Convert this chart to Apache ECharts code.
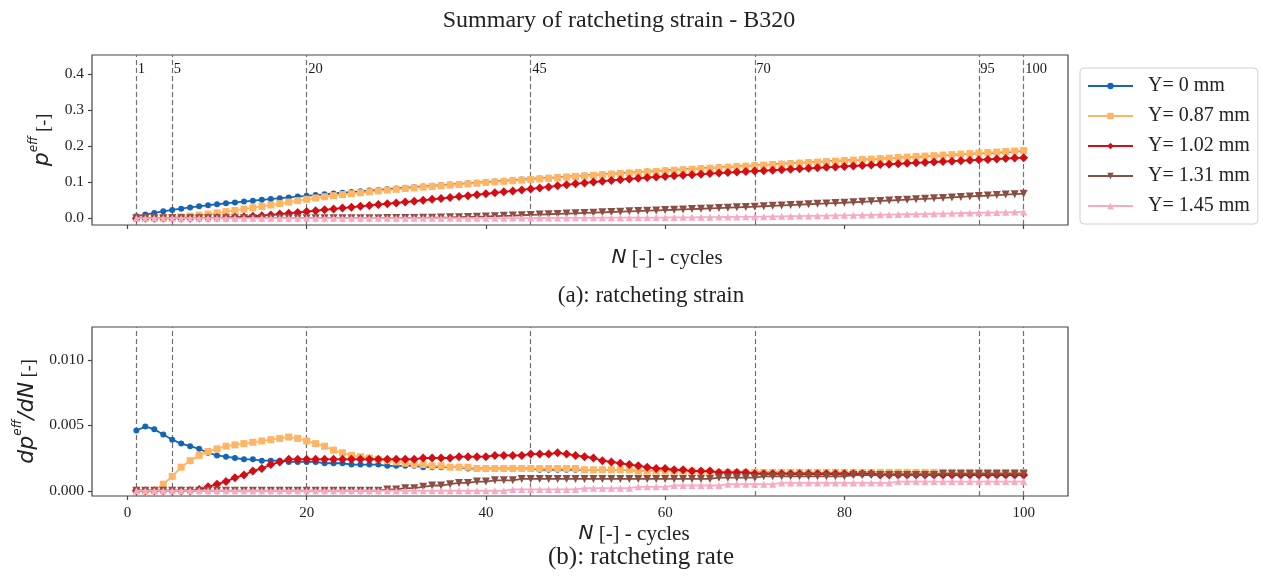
<!DOCTYPE html>
<html>
<head>
<meta charset="utf-8">
<script src="https://cdn.jsdelivr.net/npm/echarts@6/dist/echarts.min.js"></script>
<style>
  html, body { margin: 0; padding: 0; background: #ffffff; }
  #chart { width: 1263px; height: 579px; }
</style>
</head>
<body>
<div id="chart"></div>
<script>
// Cycle numbers N
const cycles = [
  1, 2, 3, 4, 5, 6, 7, 8, 9, 10, 11, 12, 13, 14, 15, 16, 17, 18, 19, 20,
  21, 22, 23, 24, 25, 26, 27, 28, 29, 30, 31, 32, 33, 34, 35, 36, 37, 38, 39, 40,
  41, 42, 43, 44, 45, 46, 47, 48, 49, 50, 51, 52, 53, 54, 55, 56, 57, 58, 59, 60,
  61, 62, 63, 64, 65, 66, 67, 68, 69, 70, 71, 72, 73, 74, 75, 76, 77, 78, 79, 80,
  81, 82, 83, 84, 85, 86, 87, 88, 89, 90, 91, 92, 93, 94, 95, 96, 97, 98, 99, 100
];

const seriesNames = ['Y= 0 mm', 'Y= 0.87 mm', 'Y= 1.02 mm', 'Y= 1.31 mm', 'Y= 1.45 mm'];

// Highlighted cycles (dashed reference lines)
const markedCycles = [1, 5, 20, 45, 70, 95, 100];

// Tick values
const xTicks = [0, 20, 40, 60, 80, 100];
const strainTicks = [0, 0.1, 0.2, 0.3, 0.4];
const rateTicks = [0, 0.005, 0.010];

// (a) ratcheting strain p_eff
const strainY000 = [
  0.0050, 0.0099, 0.0146, 0.0189, 0.0228, 0.0264, 0.0298, 0.0330, 0.0359, 0.0386,
  0.0412, 0.0437, 0.0461, 0.0485, 0.0508, 0.0531, 0.0554, 0.0576, 0.0598, 0.0620,
  0.0642, 0.0663, 0.0684, 0.0705, 0.0725, 0.0745, 0.0765, 0.0785, 0.0804, 0.0823,
  0.0842, 0.0861, 0.0879, 0.0897, 0.0915, 0.0933, 0.0951, 0.0968, 0.0985, 0.1002,
  0.1019, 0.1036, 0.1053, 0.1070, 0.1087, 0.1103, 0.1119, 0.1135, 0.1151, 0.1167,
  0.1183, 0.1199, 0.1215, 0.1231, 0.1247, 0.1263, 0.1278, 0.1293, 0.1308, 0.1323,
  0.1338, 0.1353, 0.1368, 0.1383, 0.1398, 0.1412, 0.1426, 0.1440, 0.1454, 0.1468,
  0.1482, 0.1496, 0.1510, 0.1523, 0.1536, 0.1549, 0.1562, 0.1575, 0.1588, 0.1601,
  0.1614, 0.1627, 0.1640, 0.1653, 0.1666, 0.1679, 0.1692, 0.1705, 0.1718, 0.1731,
  0.1744, 0.1757, 0.1770, 0.1783, 0.1796, 0.1809, 0.1822, 0.1835, 0.1848, 0.1861
];
const strainY087 = [
  0.0000, 0.0000, 0.0000, 0.0005, 0.0016, 0.0034, 0.0057, 0.0084, 0.0114, 0.0146,
  0.0180, 0.0215, 0.0251, 0.0288, 0.0326, 0.0365, 0.0405, 0.0446, 0.0486, 0.0524,
  0.0560, 0.0594, 0.0625, 0.0654, 0.0681, 0.0707, 0.0732, 0.0756, 0.0779, 0.0801,
  0.0822, 0.0842, 0.0862, 0.0881, 0.0900, 0.0918, 0.0936, 0.0954, 0.0971, 0.0988,
  0.1005, 0.1022, 0.1039, 0.1056, 0.1073, 0.1090, 0.1107, 0.1124, 0.1141, 0.1158,
  0.1174, 0.1190, 0.1206, 0.1222, 0.1238, 0.1254, 0.1269, 0.1284, 0.1299, 0.1314,
  0.1329, 0.1344, 0.1359, 0.1373, 0.1387, 0.1401, 0.1415, 0.1429, 0.1443, 0.1457,
  0.1471, 0.1485, 0.1499, 0.1513, 0.1527, 0.1541, 0.1555, 0.1569, 0.1583, 0.1597,
  0.1611, 0.1625, 0.1639, 0.1653, 0.1667, 0.1681, 0.1695, 0.1709, 0.1723, 0.1737,
  0.1751, 0.1765, 0.1779, 0.1793, 0.1807, 0.1821, 0.1835, 0.1849, 0.1863, 0.1877
];
const strainY102 = [
  0.0000, 0.0000, 0.0000, 0.0000, 0.0000, 0.0000, 0.0000, 0.0001, 0.0004, 0.0009,
  0.0016, 0.0026, 0.0038, 0.0053, 0.0070, 0.0090, 0.0112, 0.0136, 0.0160, 0.0184,
  0.0208, 0.0232, 0.0256, 0.0280, 0.0304, 0.0328, 0.0352, 0.0376, 0.0400, 0.0424,
  0.0448, 0.0472, 0.0497, 0.0522, 0.0547, 0.0572, 0.0598, 0.0624, 0.0650, 0.0676,
  0.0703, 0.0730, 0.0757, 0.0784, 0.0812, 0.0840, 0.0868, 0.0897, 0.0925, 0.0952,
  0.0978, 0.1003, 0.1026, 0.1048, 0.1069, 0.1089, 0.1108, 0.1126, 0.1143, 0.1160,
  0.1176, 0.1192, 0.1207, 0.1222, 0.1237, 0.1251, 0.1265, 0.1279, 0.1293, 0.1306,
  0.1319, 0.1332, 0.1345, 0.1358, 0.1371, 0.1384, 0.1397, 0.1410, 0.1423, 0.1436,
  0.1449, 0.1462, 0.1475, 0.1487, 0.1499, 0.1511, 0.1523, 0.1535, 0.1547, 0.1559,
  0.1571, 0.1583, 0.1595, 0.1607, 0.1619, 0.1631, 0.1643, 0.1655, 0.1667, 0.1679
];
const strainY131 = [
  0.0000, 0.0000, 0.0000, 0.0000, 0.0000, 0.0000, 0.0000, 0.0000, 0.0000, 0.0000,
  0.0000, 0.0000, 0.0000, 0.0000, 0.0000, 0.0000, 0.0000, 0.0000, 0.0000, 0.0000,
  0.0000, 0.0000, 0.0000, 0.0000, 0.0000, 0.0000, 0.0000, 0.0000, 0.0001, 0.0002,
  0.0004, 0.0006, 0.0009, 0.0013, 0.0017, 0.0022, 0.0028, 0.0034, 0.0041, 0.0048,
  0.0056, 0.0064, 0.0072, 0.0081, 0.0090, 0.0099, 0.0108, 0.0117, 0.0126, 0.0135,
  0.0144, 0.0153, 0.0162, 0.0171, 0.0180, 0.0189, 0.0198, 0.0207, 0.0216, 0.0225,
  0.0234, 0.0243, 0.0252, 0.0261, 0.0270, 0.0280, 0.0290, 0.0300, 0.0310, 0.0320,
  0.0331, 0.0342, 0.0353, 0.0364, 0.0375, 0.0386, 0.0397, 0.0408, 0.0419, 0.0430,
  0.0442, 0.0454, 0.0466, 0.0478, 0.0490, 0.0502, 0.0514, 0.0526, 0.0538, 0.0550,
  0.0563, 0.0576, 0.0589, 0.0602, 0.0615, 0.0628, 0.0641, 0.0654, 0.0667, 0.0680
];
const strainY145 = [
  0.0000, 0.0000, 0.0000, 0.0000, 0.0000, 0.0000, 0.0000, 0.0000, 0.0000, 0.0000,
  0.0000, 0.0000, 0.0000, 0.0000, 0.0000, 0.0000, 0.0000, 0.0000, 0.0000, 0.0000,
  0.0000, 0.0000, 0.0000, 0.0000, 0.0000, 0.0000, 0.0000, 0.0000, 0.0000, 0.0000,
  0.0000, 0.0000, 0.0000, 0.0000, 0.0000, 0.0000, 0.0000, 0.0000, 0.0000, 0.0000,
  0.0000, 0.0000, 0.0001, 0.0002, 0.0003, 0.0004, 0.0005, 0.0006, 0.0007, 0.0008,
  0.0009, 0.0010, 0.0011, 0.0012, 0.0013, 0.0014, 0.0015, 0.0016, 0.0017, 0.0018,
  0.0020, 0.0022, 0.0024, 0.0026, 0.0028, 0.0030, 0.0032, 0.0034, 0.0036, 0.0038,
  0.0042, 0.0046, 0.0050, 0.0054, 0.0058, 0.0062, 0.0066, 0.0070, 0.0074, 0.0078,
  0.0082, 0.0086, 0.0090, 0.0094, 0.0098, 0.0103, 0.0108, 0.0113, 0.0118, 0.0123,
  0.0128, 0.0133, 0.0138, 0.0143, 0.0148, 0.0153, 0.0158, 0.0163, 0.0168, 0.0173
];

// (b) ratcheting rate dp_eff/dN
const rateY000 = [
  0.0046, 0.0049, 0.0047, 0.0043, 0.0039, 0.0036, 0.0034, 0.0032, 0.0029, 0.0027,
  0.0026, 0.0025, 0.0024, 0.0024, 0.0023, 0.0023, 0.0023, 0.0022, 0.0022, 0.0022,
  0.0022, 0.0021, 0.0021, 0.0021, 0.0020, 0.0020, 0.0020, 0.0020, 0.0019, 0.0019,
  0.0019, 0.0019, 0.0018, 0.0018, 0.0018, 0.0018, 0.0018, 0.0017, 0.0017, 0.0017,
  0.0017, 0.0017, 0.0017, 0.0017, 0.0017, 0.0016, 0.0016, 0.0016, 0.0016, 0.0016,
  0.0016, 0.0016, 0.0016, 0.0016, 0.0016, 0.0016, 0.0015, 0.0015, 0.0015, 0.0015,
  0.0015, 0.0015, 0.0015, 0.0015, 0.0015, 0.0014, 0.0014, 0.0014, 0.0014, 0.0014,
  0.0014, 0.0014, 0.0014, 0.0013, 0.0013, 0.0013, 0.0013, 0.0013, 0.0013, 0.0013,
  0.0013, 0.0013, 0.0013, 0.0013, 0.0013, 0.0013, 0.0013, 0.0013, 0.0013, 0.0013,
  0.0013, 0.0013, 0.0013, 0.0013, 0.0013, 0.0013, 0.0013, 0.0013, 0.0013, 0.0013
];
const rateY087 = [
  0.0000, 0.0000, 0.0000, 0.0005, 0.0011, 0.0018, 0.0023, 0.0027, 0.0030, 0.0032,
  0.0034, 0.0035, 0.0036, 0.0037, 0.0038, 0.0039, 0.0040, 0.0041, 0.0040, 0.0038,
  0.0036, 0.0034, 0.0031, 0.0029, 0.0027, 0.0026, 0.0025, 0.0024, 0.0023, 0.0022,
  0.0021, 0.0020, 0.0020, 0.0019, 0.0019, 0.0018, 0.0018, 0.0018, 0.0017, 0.0017,
  0.0017, 0.0017, 0.0017, 0.0017, 0.0017, 0.0017, 0.0017, 0.0017, 0.0017, 0.0017,
  0.0016, 0.0016, 0.0016, 0.0016, 0.0016, 0.0016, 0.0015, 0.0015, 0.0015, 0.0015,
  0.0015, 0.0015, 0.0015, 0.0014, 0.0014, 0.0014, 0.0014, 0.0014, 0.0014, 0.0014,
  0.0014, 0.0014, 0.0014, 0.0014, 0.0014, 0.0014, 0.0014, 0.0014, 0.0014, 0.0014,
  0.0014, 0.0014, 0.0014, 0.0014, 0.0014, 0.0014, 0.0014, 0.0014, 0.0014, 0.0014,
  0.0014, 0.0014, 0.0014, 0.0014, 0.0014, 0.0014, 0.0014, 0.0014, 0.0014, 0.0014
];
const rateY102 = [
  0.0000, 0.0000, 0.0000, 0.0000, 0.0000, 0.0000, 0.0000, 0.0001, 0.0003, 0.0005,
  0.0007, 0.0010, 0.0012, 0.0015, 0.0017, 0.0020, 0.0022, 0.0024, 0.0024, 0.0024,
  0.0024, 0.0024, 0.0024, 0.0024, 0.0024, 0.0024, 0.0024, 0.0024, 0.0024, 0.0024,
  0.0024, 0.0024, 0.0025, 0.0025, 0.0025, 0.0025, 0.0026, 0.0026, 0.0026, 0.0026,
  0.0027, 0.0027, 0.0027, 0.0027, 0.0028, 0.0028, 0.0028, 0.0029, 0.0028, 0.0027,
  0.0026, 0.0025, 0.0023, 0.0022, 0.0021, 0.0020, 0.0019, 0.0018, 0.0017, 0.0017,
  0.0016, 0.0016, 0.0015, 0.0015, 0.0015, 0.0014, 0.0014, 0.0014, 0.0014, 0.0013,
  0.0013, 0.0013, 0.0013, 0.0013, 0.0013, 0.0013, 0.0013, 0.0013, 0.0013, 0.0013,
  0.0013, 0.0013, 0.0013, 0.0012, 0.0012, 0.0012, 0.0012, 0.0012, 0.0012, 0.0012,
  0.0012, 0.0012, 0.0012, 0.0012, 0.0012, 0.0012, 0.0012, 0.0012, 0.0012, 0.0012
];
const rateY131 = [
  0.0000, 0.0000, 0.0000, 0.0000, 0.0000, 0.0000, 0.0000, 0.0000, 0.0000, 0.0000,
  0.0000, 0.0000, 0.0000, 0.0000, 0.0000, 0.0000, 0.0000, 0.0000, 0.0000, 0.0000,
  0.0000, 0.0000, 0.0000, 0.0000, 0.0000, 0.0000, 0.0000, 0.0000, 0.0001, 0.0001,
  0.0002, 0.0002, 0.0003, 0.0004, 0.0004, 0.0005, 0.0006, 0.0006, 0.0007, 0.0007,
  0.0008, 0.0008, 0.0008, 0.0009, 0.0009, 0.0009, 0.0009, 0.0009, 0.0009, 0.0009,
  0.0009, 0.0009, 0.0009, 0.0009, 0.0009, 0.0009, 0.0009, 0.0009, 0.0009, 0.0009,
  0.0009, 0.0009, 0.0009, 0.0009, 0.0009, 0.0010, 0.0010, 0.0010, 0.0010, 0.0010,
  0.0011, 0.0011, 0.0011, 0.0011, 0.0011, 0.0011, 0.0011, 0.0011, 0.0011, 0.0011,
  0.0012, 0.0012, 0.0012, 0.0012, 0.0012, 0.0012, 0.0012, 0.0012, 0.0012, 0.0012,
  0.0013, 0.0013, 0.0013, 0.0013, 0.0013, 0.0013, 0.0013, 0.0013, 0.0013, 0.0013
];
const rateY145 = [
  0.0000, 0.0000, 0.0000, 0.0000, 0.0000, 0.0000, 0.0000, 0.0000, 0.0000, 0.0000,
  0.0000, 0.0000, 0.0000, 0.0000, 0.0000, 0.0000, 0.0000, 0.0000, 0.0000, 0.0000,
  0.0000, 0.0000, 0.0000, 0.0000, 0.0000, 0.0000, 0.0000, 0.0000, 0.0000, 0.0000,
  0.0000, 0.0000, 0.0000, 0.0000, 0.0000, 0.0000, 0.0000, 0.0000, 0.0000, 0.0000,
  0.0000, 0.0000, 0.0001, 0.0001, 0.0001, 0.0001, 0.0001, 0.0001, 0.0001, 0.0001,
  0.0002, 0.0002, 0.0002, 0.0002, 0.0002, 0.0002, 0.0003, 0.0003, 0.0003, 0.0003,
  0.0004, 0.0004, 0.0004, 0.0004, 0.0004, 0.0004, 0.0005, 0.0005, 0.0005, 0.0005,
  0.0005, 0.0005, 0.0006, 0.0006, 0.0006, 0.0006, 0.0006, 0.0006, 0.0006, 0.0006,
  0.0006, 0.0006, 0.0006, 0.0006, 0.0006, 0.0007, 0.0007, 0.0007, 0.0007, 0.0007,
  0.0007, 0.0007, 0.0007, 0.0007, 0.0007, 0.0007, 0.0007, 0.0007, 0.0007, 0.0007
];

const strainSets = [strainY000, strainY087, strainY102, strainY131, strainY145];
const rateSets = [rateY000, rateY087, rateY102, rateY131, rateY145];

// Line / marker styling per series
const styles = [
  { color: '#1565b5', symbol: 'circle', size: 6, rotate: 0 },
  { color: '#ffb563', symbol: 'rect', size: 7, rotate: 0 },
  { color: '#d40c14', symbol: 'diamond', size: 9, rotate: 0 },
  { color: '#8a4f42', symbol: 'triangle', size: 8, rotate: 180 },
  { color: '#f8aac5', symbol: 'triangle', size: 7, rotate: 0 }
];

const SERIF = 'Liberation Serif';
const SANS = 'DejaVu Sans';
const INK = '#222';

function pairs(values) {
  return cycles.map((n, i) => [n, values[i]]);
}

function dataSeries(sets, gridIdx) {
  return sets.map((vals, k) => ({
    name: seriesNames[k],
    type: 'line',
    xAxisIndex: gridIdx,
    yAxisIndex: gridIdx,
    data: pairs(vals),
    symbol: styles[k].symbol,
    symbolSize: styles[k].size,
    symbolRotate: styles[k].rotate,
    showSymbol: true,
    lineStyle: { color: styles[k].color, width: 1.8 },
    itemStyle: { color: styles[k].color },
    z: 3 + k * 0.01,
    animation: false
  }));
}

function guideSeries(gridIdx) {
  return {
    type: 'line',
    xAxisIndex: gridIdx,
    yAxisIndex: gridIdx,
    data: [],
    silent: true,
    z: 1,
    markLine: {
      silent: true,
      z: 1,
      symbol: ['none', 'none'],
      animation: false,
      label: { show: false },
      lineStyle: { color: '#707070', type: [5, 3], width: 1.2 },
      data: markedCycles.map(v => ({ xAxis: v }))
    }
  };
}

function xAxisDef(gridIdx, showLabels) {
  return {
    type: 'value',
    gridIndex: gridIdx,
    min: -3.95,
    max: 104.95,
    splitLine: { show: false },
    axisLine: { show: false, onZero: false },
    axisTick: { show: true, inside: false, length: 4, customValues: xTicks, lineStyle: { color: '#444', width: 1.2 } },
    axisLabel: {
      show: showLabels, customValues: xTicks, margin: 10,
      fontFamily: SERIF, fontSize: 15, color: INK
    }
  };
}

function yAxisDef(gridIdx, min, max, ticks, digits, name, nameGap) {
  return {
    type: 'value',
    gridIndex: gridIdx,
    min: min,
    max: max,
    splitLine: { show: false },
    axisLine: { show: false, onZero: false },
    axisTick: { show: true, inside: false, length: 4, customValues: ticks, lineStyle: { color: '#444', width: 1.2 } },
    axisLabel: {
      customValues: ticks, margin: 8,
      fontFamily: SERIF, fontSize: 15.5, color: INK,
      formatter: v => v.toFixed(digits)
    },
    name: name,
    nameLocation: 'middle',
    nameRotate: 90,
    nameGap: nameGap,
    nameTextStyle: {
      rich: {
        i: { fontFamily: SANS, fontStyle: 'italic', fontSize: 22, color: INK, verticalAlign: 'bottom', lineHeight: 26 },
        s: { fontFamily: SANS, fontStyle: 'italic', fontSize: 12, color: INK, verticalAlign: 'top', lineHeight: 26 },
        t: { fontFamily: SERIF, fontSize: 18, color: INK, verticalAlign: 'bottom', lineHeight: 24 }
      }
    }
  };
}

const chart = echarts.init(document.getElementById('chart'), null, { renderer: 'canvas' });

const option = {
  backgroundColor: '#ffffff',
  animation: false,
  title: {
    text: 'Summary of ratcheting strain - B320',
    left: 614,
    top: 4,
    textAlign: 'center',
    textStyle: { fontFamily: SERIF, fontSize: 24, fontWeight: 'normal', color: INK }
  },
  legend: {
    data: seriesNames,
    orient: 'vertical',
    left: 1080,
    top: 68,
    itemWidth: 45,
    itemHeight: 8,
    itemGap: 10,
    padding: [8, 8, 8, 7],
    backgroundColor: '#ffffff',
    borderColor: '#d0d0d0',
    borderWidth: 1,
    borderRadius: 4,
    textStyle: { fontFamily: SERIF, fontSize: 20, color: INK, lineHeight: 20, padding: [0, 0, 0, 10] }
  },
  grid: [
    { left: 92, right: 195, top: 55, height: 170, show: true, borderColor: '#444', borderWidth: 1.2, backgroundColor: 'transparent' },
    { left: 92, right: 195, top: 327, height: 169, show: true, borderColor: '#444', borderWidth: 1.2, backgroundColor: 'transparent' }
  ],
  xAxis: [xAxisDef(0, false), xAxisDef(1, true)],
  yAxis: [
    yAxisDef(0, -0.019, 0.453, strainTicks, 1, '{i|p}{s|eff}{t| [-]}', 36),
    yAxisDef(1, -0.0004, 0.0125, rateTicks, 3, '{i|dp}{s|eff}{i|/dN}{t| [-]}', 48)
  ],
  graphic: [
    {
      type: 'text', x: 667, y: 258,
      style: {
        text: '{i|N}{t| [-] - cycles}', align: 'center', verticalAlign: 'middle',
        rich: {
          i: { fontFamily: SANS, fontStyle: 'italic', fontSize: 20, fill: INK },
          t: { fontFamily: SERIF, fontSize: 21, fill: INK }
        }
      }
    },
    {
      type: 'text', x: 651, y: 296,
      style: { text: '(a): ratcheting strain', align: 'center', verticalAlign: 'middle', fontFamily: SERIF, fontSize: 23, fill: INK }
    },
    {
      type: 'text', x: 634, y: 534,
      style: {
        text: '{i|N}{t| [-] - cycles}', align: 'center', verticalAlign: 'middle',
        rich: {
          i: { fontFamily: SANS, fontStyle: 'italic', fontSize: 20, fill: INK },
          t: { fontFamily: SERIF, fontSize: 21, fill: INK }
        }
      }
    },
    {
      type: 'text', x: 641, y: 557,
      style: { text: '(b): ratcheting rate', align: 'center', verticalAlign: 'middle', fontFamily: SERIF, fontSize: 25, fill: INK }
    }
  ],
  series: [
    guideSeries(0),
    guideSeries(1),
    // cycle numbers written next to the dashed lines in panel (a)
    {
      type: 'scatter',
      xAxisIndex: 0,
      yAxisIndex: 0,
      silent: true,
      symbol: 'circle',
      symbolSize: 1,
      itemStyle: { color: 'rgba(0,0,0,0)' },
      z: 6,
      data: markedCycles.map(v => [v, 0.414]),
      label: {
        show: true, position: 'right', distance: 1,
        formatter: p => String(p.value[0]),
        fontFamily: SERIF, fontSize: 14.5, color: '#1a1a1a', opacity: 1,
        textBorderWidth: 0
      },
      labelLayout: { hideOverlap: false }
    },
    ...dataSeries(strainSets, 0),
    ...dataSeries(rateSets, 1)
  ]
};

chart.setOption(option);
</script>
</body>
</html>
